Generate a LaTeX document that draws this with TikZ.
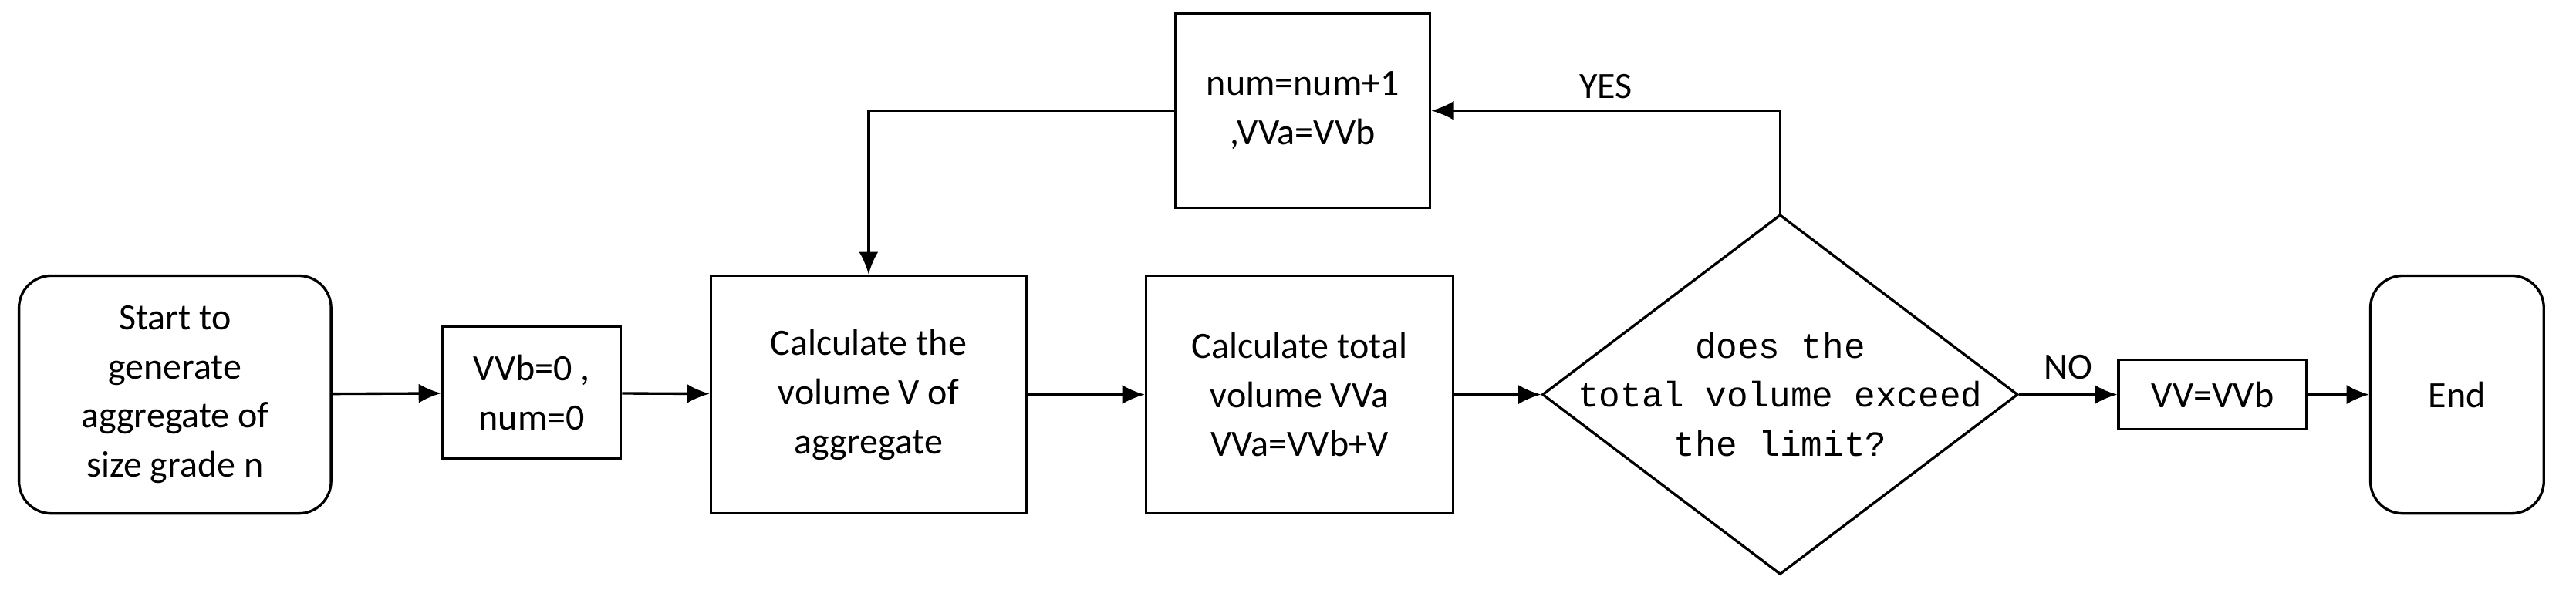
\documentclass[tikz,border=0pt]{standalone}
\usepackage{fontspec}
\setmainfont{Carlito}
\newfontfamily\monofont{Liberation Mono}
\usetikzlibrary{shapes.geometric,arrows.meta}
\tikzset{
    box/.style={draw, thick, align=center, inner sep=0pt, font=\fontsize{11.5}{15.3}\selectfont},
    term/.style={box, rounded corners=10pt},
    flow/.style={thick, -{Latex[length=7pt,width=6pt]}}
}
\begin{document}
\begin{tikzpicture}[x=0.018cm,y=-0.018cm]
    \useasboundingbox (0,0) rectangle (1560,357);

    % Boxes
    \node [term, minimum width=189*0.018cm, minimum height=144*0.018cm] (start) at (106,239) {Start to\\generate\\aggregate of\\size grade n};
    \node [box, minimum width=108*0.018cm, minimum height=80*0.018cm] (init) at (322,238) {VVb=0 ,\\num=0};
    \node [box, minimum width=191*0.018cm, minimum height=144*0.018cm] (vol) at (526,239) {Calculate the\\volume V of\\aggregate};
    \node [box, minimum width=186*0.018cm, minimum height=144*0.018cm] (total) at (787,239) {Calculate total\\volume VVa\\VVa=VVb+V};
    \node [draw, thick, diamond, minimum width=288*0.018cm, minimum height=218*0.018cm, inner sep=0pt, aspect=1.32] (check) at (1078,239) {};
    \node [align=center, font=\monofont\fontsize{11}{15.3}\selectfont] at (check) {does the\\total volume exceed\\the limit?};
    \node [box, minimum width=114*0.018cm, minimum height=42*0.018cm] (res) at (1340,239) {VV=VVb};
    \node [term, minimum width=105*0.018cm, minimum height=144*0.018cm] (end) at (1488,239) {End};
    \node [box, minimum width=154*0.018cm, minimum height=118*0.018cm] (next) at (789,67) {num=num+1\\,VVa=VVb};

    % Connectors
    \draw [flow] (start) -- (init);
    \draw [flow] (init) -- (vol);
    \draw [flow] (vol) -- (total);
    \draw [flow] (total) -- (check);
    \draw [flow] (check) -- node [above, font=\fontsize{11.5}{14}\selectfont, yshift=1pt] {NO} (res);
    \draw [flow] (res) -- (end);
    \draw [flow] (check.north) |- node [pos=0.75, above, font=\fontsize{11.5}{14}\selectfont] {YES} (next);
    \draw [flow] (next.west) -| (vol.north);
\end{tikzpicture}
\end{document}
